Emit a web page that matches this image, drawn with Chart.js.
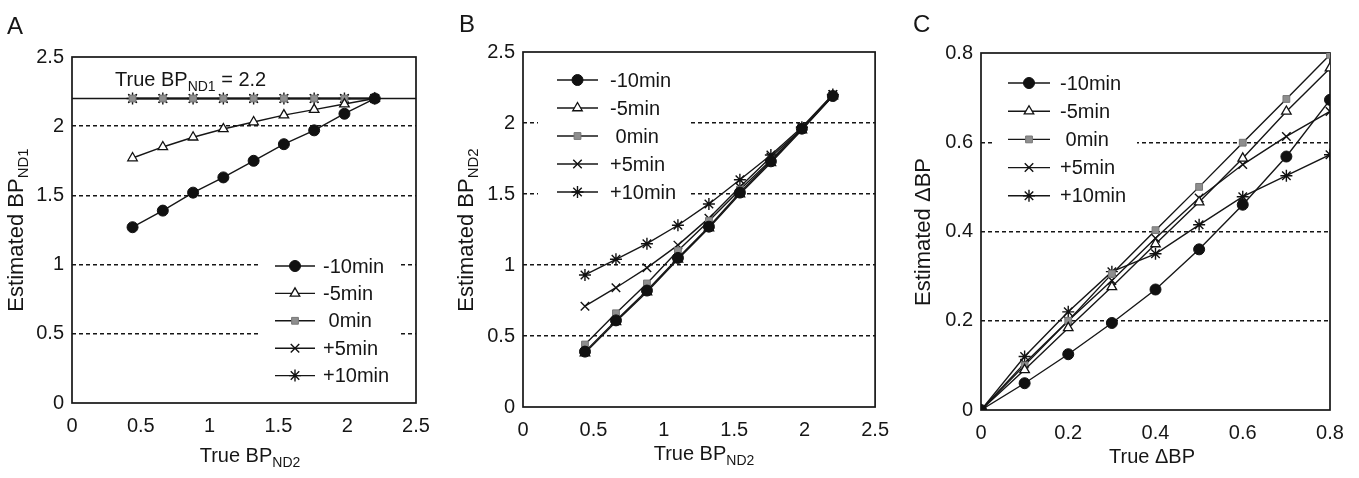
<!DOCTYPE html>
<html>
<head>
<meta charset="utf-8">
<script src="https://cdn.jsdelivr.net/npm/chart.js@4/dist/chart.umd.min.js"></script>
<style>
  html, body { margin: 0; padding: 0; background: #fff; }
  #fig { position: relative; width: 1359px; height: 478px; overflow: hidden;
         font-family: "Liberation Sans", Arial, sans-serif; color: #161616; }
  #fig canvas { position: absolute; top: 0; }
  .t { position: absolute; white-space: nowrap; font-size: 20px; line-height: 20px; }
  .t sub { font-size: 14px; vertical-align: -5px; line-height: 0; }
  .letter { font-size: 24px; line-height: 24px; }
  .ytitle { font-size: 22px; line-height: 22px; transform: translate(-50%, -50%) rotate(-90deg); }
  .ytitle sub { font-size: 15px; }
  .xtitle { transform: translateX(-50%); }
</style>
</head>
<body>
<div id="fig">
  <canvas id="chartA" width="450" height="478" style="left:0"></canvas>
  <canvas id="chartB" width="450" height="478" style="left:450px"></canvas>
  <canvas id="chartC" width="459" height="478" style="left:900px"></canvas>

  <div class="t letter" style="left:7px;top:14px">A</div>
  <div class="t letter" style="left:459px;top:12px">B</div>
  <div class="t letter" style="left:913px;top:12px">C</div>

  <div class="t ytitle" style="left:16px;top:230px">Estimated BP<sub>ND1</sub></div>
  <div class="t ytitle" style="left:466px;top:230px">Estimated BP<sub>ND2</sub></div>
  <div class="t ytitle" style="left:923px;top:232px">Estimated &Delta;BP</div>

  <div class="t xtitle" style="left:250px;top:445px">True BP<sub>ND2</sub></div>
  <div class="t xtitle" style="left:704px;top:443px">True BP<sub>ND2</sub></div>
  <div class="t xtitle" style="left:1152px;top:446px">True &Delta;BP</div>

  <div class="t" style="left:115px;top:69px">True BP<sub>ND1</sub> = 2.2</div>
</div>

<script>
// shared values
const seriesLabels = ['-10min', '-5min', ' 0min', '+5min', '+10min'];
const trueBPND1 = 2.2;
const trueBPND2 = [0.44, 0.66, 0.88, 1.10, 1.32, 1.54, 1.76, 1.98, 2.20];
const trueDeltaBP = [0, 0.1, 0.2, 0.3, 0.4, 0.5, 0.6, 0.7, 0.8];

// panel A : estimated BP_ND1
const a_m10 = [1.27, 1.39, 1.52, 1.63, 1.75, 1.87, 1.97, 2.09, 2.20];
const a_m5  = [1.77, 1.85, 1.92, 1.98, 2.03, 2.08, 2.12, 2.16, 2.20];
const a_0   = [2.20, 2.20, 2.20, 2.20, 2.20, 2.20, 2.20, 2.20, 2.20];
const a_p5  = [2.20, 2.20, 2.20, 2.20, 2.20, 2.20, 2.20, 2.20, 2.20];
const a_p10 = [2.20, 2.20, 2.20, 2.20, 2.20, 2.20, 2.20, 2.20, 2.20];

// panel B : estimated BP_ND2
const b_m10 = [0.39, 0.61, 0.82, 1.05, 1.27, 1.51, 1.73, 1.96, 2.19];
const b_m5  = [0.38, 0.60, 0.81, 1.04, 1.26, 1.50, 1.72, 1.95, 2.19];
const b_0   = [0.44, 0.66, 0.87, 1.10, 1.31, 1.53, 1.74, 1.96, 2.19];
const b_p5  = [0.71, 0.84, 0.98, 1.14, 1.33, 1.55, 1.76, 1.96, 2.20];
const b_p10 = [0.93, 1.04, 1.15, 1.28, 1.43, 1.60, 1.775, 1.97, 2.20];

// panel C : estimated delta BP
const c_m10 = [0, 0.06, 0.125, 0.195, 0.27, 0.36, 0.46, 0.568, 0.695];
const c_m5  = [0, 0.09, 0.184, 0.276, 0.372, 0.466, 0.564, 0.669, 0.766];
const c_0   = [0, 0.10, 0.20, 0.305, 0.403, 0.50, 0.599, 0.697, 0.796];
const c_p5  = [0, 0.105, 0.20, 0.29, 0.385, 0.475, 0.55, 0.613, 0.669];
const c_p10 = [0, 0.12, 0.22, 0.31, 0.35, 0.415, 0.478, 0.525, 0.572];

// ticks
const ticksAB = [0, 0.5, 1, 1.5, 2, 2.5];
const ticksC  = [0, 0.2, 0.4, 0.6, 0.8];

const INK = '#161616';
const FONT = '"Liberation Sans", Arial, sans-serif';
Chart.defaults.font.family = FONT;
Chart.defaults.font.size = 20;
Chart.defaults.color = INK;

const markers = [
  { pointStyle: 'circle',   pointRadius: 5.5, pointBackgroundColor: '#111', pointBorderColor: '#111', pointBorderWidth: 1 },
  { pointStyle: 'triangle', pointRadius: 5.5, pointBackgroundColor: '#fff', pointBorderColor: '#111', pointBorderWidth: 1.3 },
  { pointStyle: 'rect',     pointRadius: 4.8, pointBackgroundColor: '#8e8e8e', pointBorderColor: '#777', pointBorderWidth: 1 },
  { pointStyle: 'crossRot', pointRadius: 6,   pointBackgroundColor: '#111', pointBorderColor: '#111', pointBorderWidth: 1.4 },
  { pointStyle: 'star',     pointRadius: 6,   pointBackgroundColor: '#111', pointBorderColor: '#111', pointBorderWidth: 1.4 }
];

function series(xs, lists) {
  return lists.map((ys, i) => Object.assign({
    label: seriesLabels[i],
    data: xs.map((x, j) => ({ x: x, y: ys[j] })),
    borderColor: INK,
    borderWidth: 1.4,
    tension: 0
  }, markers[i]));
}

// box round the plot area
const framePlugin = {
  id: 'frame',
  beforeDatasetsDraw(chart) {
    const { ctx, chartArea: a } = chart;
    ctx.save();
    ctx.strokeStyle = INK;
    ctx.lineWidth = 1.7;
    ctx.strokeRect(a.left, a.top, a.right - a.left, a.bottom - a.top);
    ctx.restore();
  }
};

// legend on a white patch inside the plot
const boxLegend = {
  id: 'boxLegend',
  afterDatasetsDraw(chart, args, o) {
    const ctx = chart.ctx;
    ctx.save();
    ctx.fillStyle = '#fff';
    ctx.fillRect(o.box[0], o.box[1], o.box[2], o.box[3]);
    ctx.font = '20px ' + FONT;
    ctx.textBaseline = 'middle';
    chart.data.datasets.filter(d => !d.isRef).forEach((d, i) => {
      const y = o.y + i * o.dy;
      ctx.strokeStyle = d.borderColor;
      ctx.lineWidth = d.borderWidth;
      ctx.beginPath();
      ctx.moveTo(o.x, y);
      ctx.lineTo(o.x + o.len, y);
      ctx.stroke();
      ctx.fillStyle = d.pointBackgroundColor;
      ctx.strokeStyle = d.pointBorderColor;
      ctx.lineWidth = d.pointBorderWidth;
      Chart.helpers.drawPoint(ctx, { pointStyle: d.pointStyle, rotation: 0, radius: d.pointRadius, borderWidth: d.pointBorderWidth }, o.x + o.len / 2, y);
      ctx.fillStyle = INK;
      ctx.fillText(d.label, o.x + o.len + o.gap, y + 1);
    });
    ctx.restore();
  }
};

function makeChart(id, datasets, xr, yr, pad, legend) {
  const dashed = (vals) => (c) => (c.tick && c.tick.value > vals[0] && c.tick.value < vals[vals.length - 1]) ? INK : 'rgba(0,0,0,0)';
  return new Chart(document.getElementById(id), {
    type: 'line',
    data: { datasets: datasets },
    plugins: [framePlugin, boxLegend],
    options: {
      responsive: false,
      animation: false,
      layout: { padding: pad },
      plugins: { legend: { display: false }, tooltip: { enabled: false }, boxLegend: legend },
      scales: {
        x: {
          type: 'linear', min: xr[0], max: xr[xr.length - 1],
          afterBuildTicks: s => { s.ticks = xr.map(v => ({ value: v })); },
          afterFit: s => { s.height = 40; },
          grid: { display: false, drawTicks: false },
          border: { display: false },
          ticks: { padding: 11, callback: v => String(v) }
        },
        y: {
          type: 'linear', min: yr[0], max: yr[yr.length - 1],
          afterBuildTicks: s => { s.ticks = yr.map(v => ({ value: v })); },
          afterFit: s => { s.width = 40; },
          grid: { color: dashed(yr), lineWidth: 1.4, drawTicks: false },
          border: { display: false, dash: [4, 3] },
          ticks: { padding: 8, callback: v => String(v) }
        }
      }
    }
  });
}

// A
const dsA = series(trueBPND2, [a_m10, a_m5, a_0, a_p5, a_p10]);
dsA.push({
  isRef: true, label: 'True BPND1',
  data: [{ x: ticksAB[0], y: trueBPND1 }, { x: ticksAB[ticksAB.length - 1], y: trueBPND1 }],
  borderColor: INK, borderWidth: 1.5, pointRadius: 0, order: 10
});
makeChart('chartA', dsA, ticksAB, ticksAB,
  { left: 32, right: 34, top: 57, bottom: 35 },
  { box: [260, 252, 138, 138], x: 275, y: 266, dy: 27.4, len: 40, gap: 8 });

// B
makeChart('chartB', series(trueBPND2, [b_m10, b_m5, b_0, b_p5, b_p10]), ticksAB, ticksAB,
  { left: 33, right: 22, top: 52, bottom: 31 },
  { box: [88, 64, 152, 144], x: 107, y: 80, dy: 28, len: 41, gap: 12 });

// C
makeChart('chartC', series(trueDeltaBP, [c_m10, c_m5, c_0, c_p5, c_p10]), ticksC, ticksC,
  { left: 41, right: 29, top: 53, bottom: 28 },
  { box: [95, 68, 142, 144], x: 108, y: 83, dy: 28.2, len: 42, gap: 10 });
</script>
</body>
</html>
